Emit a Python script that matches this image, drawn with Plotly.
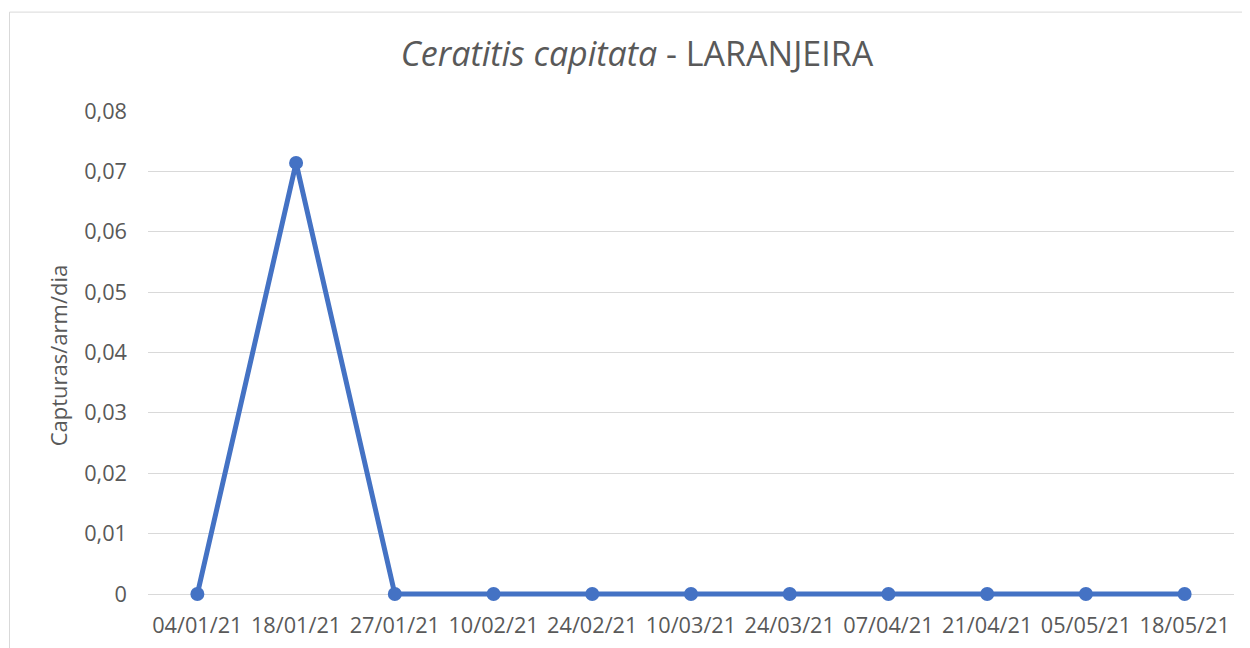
import plotly.graph_objects as go

dates = ["04/01/21", "18/01/21", "27/01/21", "10/02/21", "24/02/21", "10/03/21",
         "24/03/21", "07/04/21", "21/04/21", "05/05/21", "18/05/21"]
capturas = [0, 0.0714, 0, 0, 0, 0, 0, 0, 0, 0, 0]
y_tickvals = [0, 0.01, 0.02, 0.03, 0.04, 0.05, 0.06, 0.07, 0.08]
y_ticktext = ["0", "0,01", "0,02", "0,03", "0,04", "0,05", "0,06", "0,07", "0,08"]

FONT = "Open Sans"
GREY = "#595959"

fig = go.Figure()
fig.add_trace(go.Scatter(
    x=dates, y=capturas, mode="lines+markers",
    line=dict(color="#4472C4", width=5),
    marker=dict(color="#4472C4", size=14),
    showlegend=False, cliponaxis=False,
))

# page has an 8px body margin; figure coordinates = page - 8
W, H = 1242, 640
L, R = 140, 16
T = 103
zero_px = 586.5           # y of value 0 in figure pixels
px_per_unit = (586.5 - 103) / 0.08
pad = 6                   # extra px below zero so the baseline line is not clipped
ymin = -pad / px_per_unit
B = H - (zero_px + pad)
pw = W - L - R
ph = H - T - B

def px2x(px):
    return (px - L) / pw

def py2y(py):
    return (H - B - py) / ph

fig.add_shape(type="rect", xref="paper", yref="paper",
              x0=px2x(1.5), x1=px2x(1300), y0=py2y(700), y1=py2y(4),
              line=dict(color="#d9d9d9", width=1), fillcolor="rgba(0,0,0,0)", layer="below")

fig.update_layout(
    width=W, height=H,
    margin=dict(l=L, r=R, t=T, b=B, autoexpand=False),
    plot_bgcolor="white", paper_bgcolor="white",
    font=dict(family=FONT, color=GREY, size=21.7),
    title=dict(text="<i>Ceratitis capitata</i> - LARANJEIRA",
               x=629 / W, xref="container", xanchor="center",
               y=1 - 46 / H, yref="container", yanchor="middle",
               font=dict(family=FONT, size=34, color=GREY)),
    xaxis=dict(type="category", showgrid=False, showline=False, zeroline=False,
               ticks="", tickfont=dict(size=21.7, color=GREY), ticklabelstandoff=10,
               range=[-0.5, 10.5], automargin=False),
    yaxis=dict(range=[ymin, 0.08], tickvals=y_tickvals, ticktext=y_ticktext,
               showgrid=True, gridcolor="#d9d9d9", gridwidth=1,
               zeroline=False, showline=False, ticks="", automargin=False,
               tickfont=dict(size=21.7, color=GREY), ticklabelstandoff=20,
               title=dict(text="Capturas/arm/dia", font=dict(size=22, color=GREY), standoff=10)),
)

fig.write_html("out.html")
